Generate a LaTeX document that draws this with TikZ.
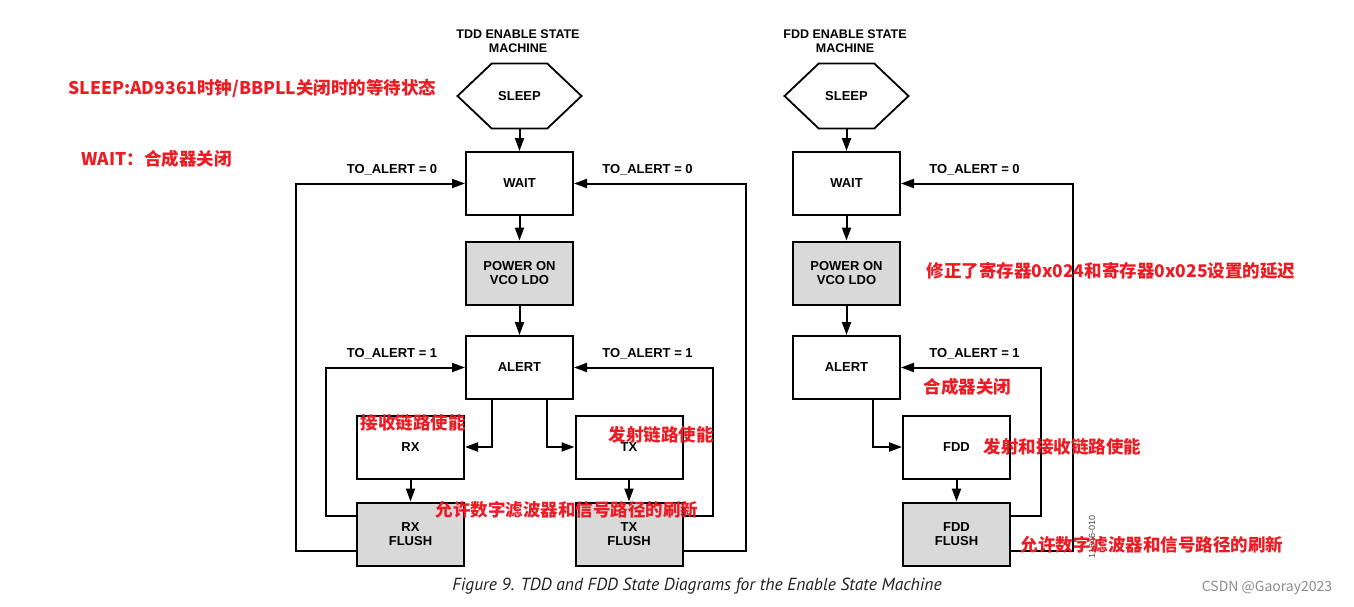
\documentclass[tikz,border=0pt]{standalone}
\usepackage{fontspec}
\setmainfont{Liberation Sans}
\newfontfamily\cjk{Noto Sans CJK SC}
\newfontfamily\capfont{PT Sans}
\usetikzlibrary{arrows.meta,shapes.symbols}
\definecolor{notered}{RGB}{235,28,36}
\definecolor{flushgray}{RGB}{217,217,217}
\definecolor{captext}{RGB}{35,31,32}

\begin{document}
\begin{tikzpicture}[x=1pt,y=-1pt,
		state/.style={draw,line width=2pt,minimum width=107pt,minimum height=63pt,align=center,font=\fontsize{13}{14}\selectfont\bfseries},
		shade/.style={state,fill=flushgray},
		sleepbox/.style={draw,line width=1.8pt,shape=signal,signal to=west and east,signal pointer angle=87,minimum width=124pt,minimum height=65pt,inner sep=0pt,font=\fontsize{13}{14}\selectfont\bfseries},
		flow/.style={line width=2pt,-{Triangle[length=13pt,width=9pt]}},
		cond/.style={font=\fontsize{13}{14}\selectfont\bfseries},
		head/.style={align=center,font=\fontsize{12.5}{14}\selectfont\bfseries},
		note/.style={anchor=west,text=notered,font=\cjk\bfseries\fontsize{17.5}{20}\selectfont}]
		\useasboundingbox (0,0) rectangle (1354,606);
		\node[head] (title1) at (518,41) {TDD ENABLE STATE\\MACHINE};
		\node[head] (title2) at (845,41) {FDD ENABLE STATE\\MACHINE};
		\node[sleepbox] (sleep1) at (519.5,96) {SLEEP};
		\node[state] (wait1) at (519.5,183.5) {WAIT};
		\node[shade] (power1) at (519.5,273) {POWER ON\\VCO LDO};
		\node[state] (alert1) at (519.5,367.5) {ALERT};
		\node[state] (rx) at (410.5,447) {RX};
		\node[state] (tx) at (629,447) {TX};
		\node[shade] (rxflush) at (410.5,534) {RX\\FLUSH};
		\node[shade] (txflush) at (629,534) {TX\\FLUSH};
		\node[sleepbox] (sleep2) at (846.5,96) {SLEEP};
		\node[state] (wait2) at (846.5,183.5) {WAIT};
		\node[shade] (power2) at (846.5,273) {POWER ON\\VCO LDO};
		\node[state] (alert2) at (846.5,367.5) {ALERT};
		\node[state] (fdd) at (956.5,447) {FDD};
		\node[shade] (fddflush) at (956.5,534) {FDD\\FLUSH};
		\draw[flow] (sleep1) -- (wait1);
		\draw[flow] (wait1) -- (power1);
		\draw[flow] (power1) -- (alert1);
		\draw[flow] ([xshift=-28pt]alert1.south) |- (rx.east);
		\draw[flow] ([xshift=27pt]alert1.south) |- (tx.west);
		\draw[flow] (rx) -- (rxflush);
		\draw[flow] (tx) -- (txflush);
		\draw[flow] ([yshift=18pt]rxflush.west) -- ++(-30,0) |- (alert1.west);
		\draw[flow] ([yshift=-17pt]rxflush.west) -- ++(-60,0) |- (wait1.west);
		\draw[flow] ([yshift=18pt]txflush.east) -- ++(29,0) |- (alert1.east);
		\draw[flow] ([yshift=-17pt]txflush.east) -- ++(62,0) |- (wait1.east);
		\draw[flow] (sleep2) -- (wait2);
		\draw[flow] (wait2) -- (power2);
		\draw[flow] (power2) -- (alert2);
		\draw[flow] ([xshift=26.5pt]alert2.south) |- (fdd.west);
		\draw[flow] (fdd) -- (fddflush);
		\draw[flow] ([yshift=18pt]fddflush.east) -- ++(30,0) |- (alert2.east);
		\draw[flow] ([yshift=-17pt]fddflush.east) -- ++(62,0) |- (wait2.east);
		\node[cond] (c1) at (392,170) {TO\_ALERT = 0};
		\node[cond] (c2) at (647.5,170) {TO\_ALERT = 0};
		\node[cond] (c3) at (392,354) {TO\_ALERT = 1};
		\node[cond] (c4) at (647.5,354) {TO\_ALERT = 1};
		\node[cond] (c5) at (974.5,170) {TO\_ALERT = 0};
		\node[cond] (c6) at (974.5,354) {TO\_ALERT = 1};
		\node[rotate=90,text=black!70,font=\fontsize{9}{10}\selectfont] (fignum) at (1092,537) {11846-010};
		\node[note] (n1) at (65,88) {SLEEP:AD9361时钟/BBPLL关闭时的等待状态};
		\node[note] (n2) at (78,159) {WAIT：合成器关闭};
		\node[note] (n3) at (923,271) {修正了寄存器0x024和寄存器0x025设置的延迟};
		\node[note] (n4) at (920,387) {合成器关闭};
		\node[note] (n5) at (357,423) {接收链路使能};
		\node[note] (n6) at (605,435) {发射链路使能};
		\node[note] (n7) at (980,447) {发射和接收链路使能};
		\node[note] (n8) at (432,510) {允许数字滤波器和信号路径的刷新};
		\node[note] (n9) at (1017,545) {允许数字滤波器和信号路径的刷新};
		\node[text=captext,font=\capfont\itshape\fontsize{17.5}{20}\selectfont] (caption) at (697,586) {Figure 9. TDD and FDD State Diagrams for the Enable State Machine};
		\node[text=black!45,font=\cjk\fontsize{14}{16}\selectfont] (mark) at (1267,588) {CSDN @Gaoray2023};
	\end{tikzpicture}
\end{document}
